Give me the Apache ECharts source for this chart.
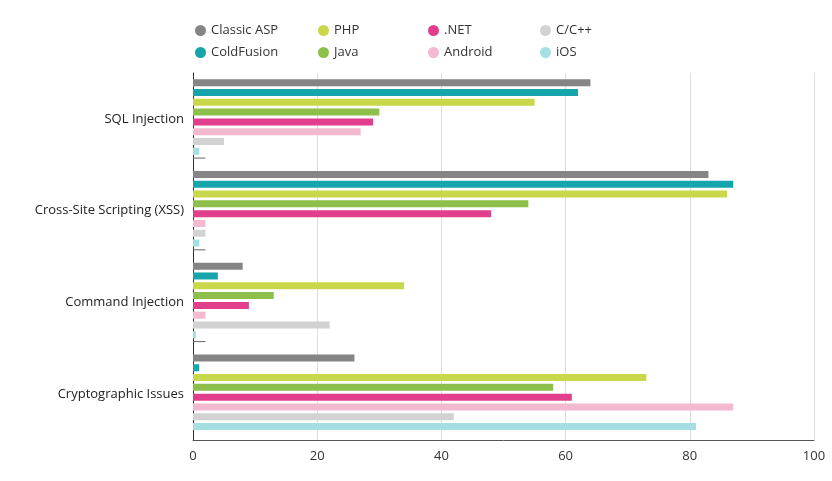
<!DOCTYPE html>
<html>
<head>
<meta charset="utf-8">
<script src="https://cdn.jsdelivr.net/npm/echarts@6/dist/echarts.min.js"></script>
<style>html,body{margin:0;padding:0;background:#fff}#chart{width:832px;height:481px}</style>
</head>
<body>
<div id="chart"></div>
<script>
var categories = ['SQL Injection', 'Cross-Site Scripting (XSS)', 'Command Injection', 'Cryptographic Issues'];
var classicAsp = [64, 83, 8, 26];
var coldFusion = [62, 87, 4, 1];
var php = [55, 86, 34, 73];
var java = [30, 54, 13, 58];
var dotNet = [29, 48, 9, 61];
var android = [27, 2, 2, 87];
var cpp = [5, 2, 22, 42];
var ios = [1, 1, 0.5, 81];
var other = [2, 2, 2, 0];
var xTicks = [0, 20, 40, 60, 80, 100];

var chart = echarts.init(document.getElementById('chart'));
var font = '"Open Sans", "DejaVu Sans", sans-serif';

function bar(name, data, color, w) {
  return {
    name: name, type: 'bar', data: data, barWidth: w || 7, barGap: '40%',
    itemStyle: { color: color }, silent: true
  };
}

var legendBase = {
  orient: 'vertical', icon: 'circle', itemWidth: 11, itemHeight: 11, itemGap: 9,
  textStyle: { fontFamily: font, fontSize: 13, color: '#333' }
};

var option = {
  animation: false,
  textStyle: { fontFamily: font },
  legend: [
    Object.assign({ left: 190, top: 19, data: ['Classic ASP', 'ColdFusion'] }, legendBase),
    Object.assign({ left: 313, top: 19, data: ['PHP', 'Java'] }, legendBase),
    Object.assign({ left: 423, top: 19, data: ['.NET', 'Android'] }, legendBase),
    Object.assign({ left: 535, top: 19, data: ['C/C++', 'iOS'] }, legendBase)
  ],
  grid: { left: 193, right: 18, top: 73, bottom: 41 },
  xAxis: {
    type: 'value', min: 0, max: 100, interval: 20,
    axisLine: { show: true, lineStyle: { color: '#555' } },
    axisTick: { show: false },
    splitLine: { lineStyle: { color: '#ddd' } },
    axisLabel: {
      color: '#333', fontSize: 13, margin: 10,
      formatter: function (v) { return xTicks.indexOf(v) >= 0 ? String(v) : ''; }
    }
  },
  yAxis: {
    type: 'category', data: categories, inverse: true,
    axisLine: { lineStyle: { color: '#333' } },
    axisTick: { show: false },
    axisLabel: { color: '#222', fontSize: 13, margin: 9 }
  },
  series: [
    bar('Classic ASP', classicAsp, '#858585'),
    bar('ColdFusion', coldFusion, '#16a5ab'),
    bar('PHP', php, '#c9d84b'),
    bar('Java', java, '#8cc04a'),
    bar('.NET', dotNet, '#e13f8b'),
    bar('Android', android, '#f2b9d1'),
    bar('C/C++', cpp, '#d2d2d2'),
    bar('iOS', ios, '#a6dfe1'),
    bar('Other', other, '#666', 1)
  ]
};
chart.setOption(option);
</script>
</body>
</html>
